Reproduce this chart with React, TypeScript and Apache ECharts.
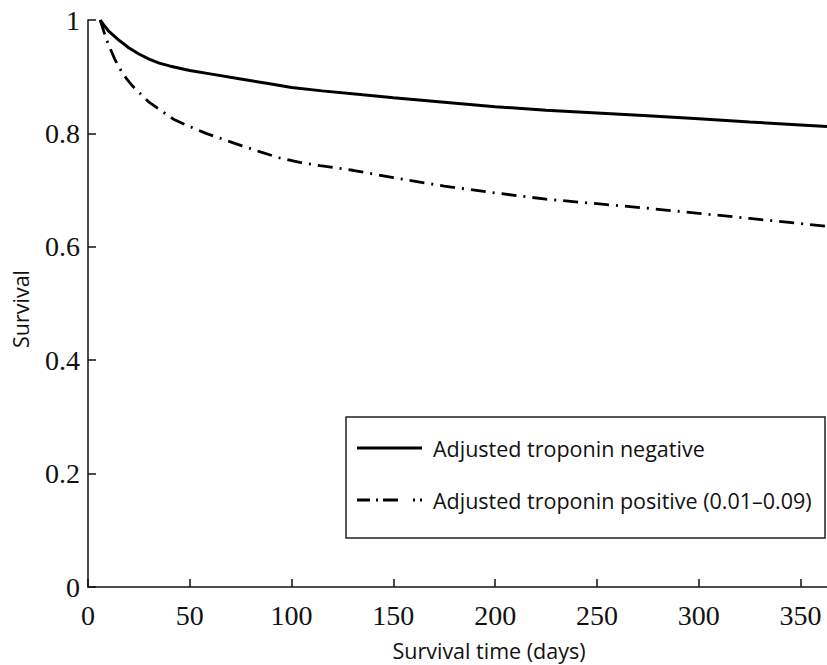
import React, { useEffect, useRef } from "react";
import * as echarts from "echarts";

const negDays = [6, 8, 10, 15, 20, 25, 30, 35, 40, 50, 60, 75, 90, 100, 115, 135, 150, 175, 200, 225, 250, 275, 300, 325, 350, 363];
const negSurv = [1.0, 0.99, 0.981, 0.965, 0.951, 0.94, 0.931, 0.924, 0.919, 0.911, 0.905, 0.896, 0.887, 0.881, 0.875, 0.868, 0.863, 0.855, 0.847, 0.841, 0.836, 0.831, 0.826, 0.82, 0.815, 0.812];

const posDays = [6, 9, 13, 16, 19, 22, 26, 30, 36, 42, 50, 58, 66, 75, 85, 94, 104, 114, 130, 150, 175, 200, 225, 250, 275, 300, 325, 350, 363];
const posSurv = [1.0, 0.966, 0.932, 0.912, 0.896, 0.883, 0.869, 0.855, 0.84, 0.825, 0.812, 0.8, 0.79, 0.779, 0.767, 0.757, 0.749, 0.743, 0.735, 0.722, 0.707, 0.695, 0.684, 0.676, 0.668, 0.659, 0.65, 0.641, 0.636];

const seriesNames = ["Adjusted troponin negative", "Adjusted troponin positive (0.01\u20130.09)"];
const xTitle = "Survival time (days)";
const yTitle = "Survival";
const xTicks = [0, 50, 100, 150, 200, 250, 300, 350];

const SANS = "'Open Sans', 'Noto Sans', sans-serif";
const SERIF = "'Liberation Serif', 'DejaVu Serif', serif";

const solidIcon = "path://M0,0h65v3h-65z";
const dashIcon = "path://M0,0h13v3h-13z M19,0h2v3h-2z M26,0h15v3h-15z M56,0h2v3h-2z M63,0h2v3h-2z";

export default function App() {
  const ref = useRef<HTMLDivElement>(null);
  useEffect(() => {
    document.body.style.margin = "0";
    const chart = echarts.init(ref.current!, null, { renderer: "svg" });
    const pair = (xs: number[], ys: number[]) => xs.map((x, i) => [x, ys[i]]);
    chart.setOption({
      animation: false,
      backgroundColor: "#ffffff",
      grid: { left: 88, top: 20, right: 0, bottom: 78, containLabel: false },
      xAxis: {
        type: "value",
        min: 0,
        max: 363,
        interval: 50,
        splitLine: { show: false },
        axisLine: { show: true, lineStyle: { color: "#111", width: 1.5 } },
        axisTick: { show: true, inside: true, length: 8, lineStyle: { color: "#111", width: 1.5 } },
        axisLabel: {
          showMaxLabel: false,
          margin: 14,
          color: "#111",
          fontFamily: SERIF,
          fontSize: 28,
          formatter: (v: number) => (xTicks.indexOf(v) >= 0 ? String(v) : ""),
        },
      },
      yAxis: {
        type: "value",
        min: 0,
        max: 1,
        interval: 0.2,
        splitLine: { show: false },
        axisLine: { show: true, lineStyle: { color: "#111", width: 1.5 } },
        axisTick: { show: true, inside: true, length: 8, lineStyle: { color: "#111", width: 1.5 } },
        axisLabel: {
          margin: 8,
          color: "#111",
          fontFamily: SERIF,
          fontSize: 28,
        },
      },
      legend: {
        show: true,
        orient: "vertical",
        left: 346,
        top: 417,
        padding: [20, 10, 20, 11],
        itemGap: 30,
        itemWidth: 65,
        itemHeight: 3,
        textStyle: { fontFamily: SANS, fontSize: 21.5, color: "#111", padding: [0, 0, 0, 6] },
        data: [
          { name: seriesNames[0], icon: solidIcon },
          { name: seriesNames[1], icon: dashIcon },
        ],
      },
      graphic: [
        {
          type: "rect",
          shape: { x: 346, y: 417, width: 479, height: 121 },
          style: { fill: "none", stroke: "#222", lineWidth: 1.5 },
          z: 100,
        },
        {
          type: "text",
          x: 489,
          y: 650,
          style: { text: xTitle, fontFamily: SANS, fontSize: 21.5, fill: "#111", align: "center", verticalAlign: "middle" },
        },
        {
          type: "text",
          x: 20,
          y: 309,
          rotation: Math.PI / 2,
          style: { text: yTitle, fontFamily: SANS, fontSize: 21.5, fill: "#111", align: "center", verticalAlign: "middle" },
        },
      ],
      series: [
        {
          name: seriesNames[0],
          type: "line",
          data: pair(negDays, negSurv),
          symbol: "none",
          lineStyle: { color: "#000", width: 3, type: "solid" },
          itemStyle: { color: "#000" },
        },
        {
          name: seriesNames[1],
          type: "line",
          data: pair(posDays, posSurv),
          symbol: "none",
          lineStyle: { color: "#000", width: 2.8, type: [15, 7, 2, 7] },
          itemStyle: { color: "#000" },
        },
      ],
    });
    return () => chart.dispose();
  }, []);
  return <div ref={ref} style={{ width: 827, height: 665 }} />;
}
